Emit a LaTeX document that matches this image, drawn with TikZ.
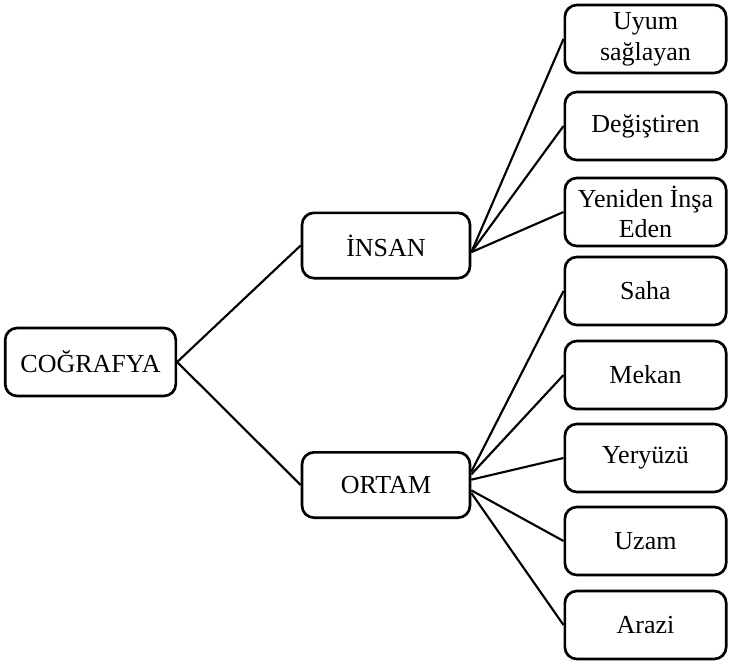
\documentclass[tikz,border=0pt]{standalone}
\usepackage{fontspec}
\setmainfont{Liberation Serif}
\usetikzlibrary{positioning}

\begin{document}
\begin{tikzpicture}[x=0.75pt,y=0.75pt,yscale=-1,xscale=1,
  kutu/.style={draw, line width=2pt, rounded corners=9pt, align=center, inner sep=0.75pt,
    font=\fontsize{19.5}{23}\selectfont},
  dal/.style={line width=1.6pt}]
\useasboundingbox (0,0) rectangle (729,664);

% Text Node
\node [kutu, minimum width=128pt, minimum height=51pt] (cografya) at (90.5,362) {COĞRAFYA};
% Text Node
\node [kutu, minimum width=126pt, minimum height=49pt] (insan) at (386,245.5) {İNSAN};
% Text Node
\node [kutu, minimum width=126pt, minimum height=49pt] (ortam) at (386,485) {ORTAM};

% right column
\foreach \ad/\y/\yazi in {uyum/39/{Uyum\\sağlayan}, degistiren/126/{Değiştiren},
    yeniden/212/{Yeniden İnşa\\Eden}, saha/291/{Saha}, mekan/375/{Mekan},
    yeryuzu/458/{Yeryüzü}, uzam/541/{Uzam}, arazi/625/{Arazi}}
  \node [kutu, minimum width=121pt, minimum height=51pt] (\ad) at (645.5,\y) {\yazi};

%Straight Lines
\draw [dal] (cografya.east) -- (insan.west) ;
\draw [dal] (cografya.east) -- (ortam.west) ;

%Straight Lines
\foreach \hedef in {uyum, degistiren, yeniden}
  \draw [dal] ([yshift=5pt]insan.east) -- (\hedef.west) ;

%Straight Lines
\foreach \hedef/\kay in {saha/-10, mekan/-8, yeryuzu/-4, uzam/4, arazi/6}
  \draw [dal] ([yshift=\kay pt]ortam.east) -- (\hedef.west) ;

\end{tikzpicture}
\end{document}
